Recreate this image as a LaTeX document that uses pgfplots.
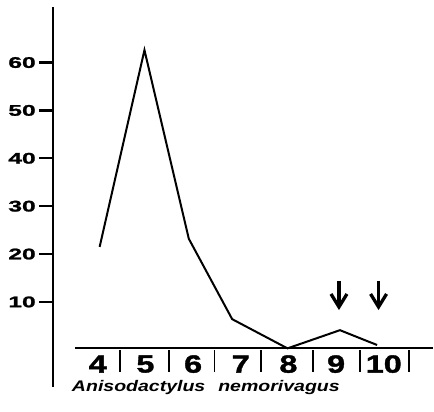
\documentclass[border=0pt]{standalone}
\usepackage{fontspec}
\setmainfont{Liberation Sans}
\newfontfamily\tickfont[FakeStretch=1.6, FakeBold=1.5]{Liberation Sans}
\newfontfamily\catfont[FakeStretch=1.3, FakeBold=1.5]{Liberation Sans}
\newfontfamily\namefont[FakeStretch=1.27]{Liberation Sans}
\usepackage{pgfplots}
\pgfplotsset{compat=1.18}
\usetikzlibrary{arrows.meta}
\begin{document}
\begin{tikzpicture}
\begin{axis}[
  scale only axis, width=380.7pt, height=381.6pt,
  xmin=3.065, xmax=11.03, ymin=-7.8, ymax=71.7,
  axis x line=none, axis y line*=left,
  y axis line style={line width=2pt},
  ytick={10,20,...,60},
  tick align=outside, major tick length=14pt,
  ytick style={line width=2.2pt, black},
  yticklabel style={font=\tickfont\bfseries\fontsize{15.4}{16}\selectfont, inner sep=0pt, xshift=-3.3pt},
  /pgf/number format/assume math mode=true,
  clip=false,
]
\addplot[black, line width=2pt] coordinates {(4.04,21.5) (4.98,62.6) (5.91,23.2) (6.82,6.4) (7.98,0.3) (9.08,4.1) (9.86,1.0)};
% baseline and dividers
\draw[line width=2.2pt] (axis cs:3.52,0.3) -- (axis cs:11.03,0.3);
\draw[line width=1.8pt] (axis cs:4.46,0) -- (axis cs:4.46,-4.7);
\draw[line width=1.8pt] (axis cs:5.49,0) -- (axis cs:5.49,-4.7);
\draw[line width=1.8pt] (axis cs:6.45,0) -- (axis cs:6.45,-4.7);
\draw[line width=1.8pt] (axis cs:7.43,0) -- (axis cs:7.43,-4.7);
\draw[line width=1.8pt] (axis cs:8.52,0) -- (axis cs:8.52,-4.7);
\draw[line width=1.8pt] (axis cs:9.50,0) -- (axis cs:9.50,-4.7);
\draw[line width=1.8pt] (axis cs:10.53,0) -- (axis cs:10.53,-4.7);
% category labels
\node[font=\catfont\bfseries\fontsize{25}{26}\selectfont, inner sep=0pt] at (axis cs:4,-2.98) {4};
\node[font=\catfont\bfseries\fontsize{25}{26}\selectfont, inner sep=0pt] at (axis cs:5,-2.98) {5};
\node[font=\catfont\bfseries\fontsize{25}{26}\selectfont, inner sep=0pt] at (axis cs:6,-2.98) {6};
\node[font=\catfont\bfseries\fontsize{25}{26}\selectfont, inner sep=0pt] at (axis cs:7,-2.98) {7};
\node[font=\catfont\bfseries\fontsize{25}{26}\selectfont, inner sep=0pt] at (axis cs:8,-2.98) {8};
\node[font=\catfont\bfseries\fontsize{25}{26}\selectfont, inner sep=0pt] at (axis cs:9,-2.98) {9};
\node[font=\catfont\bfseries\fontsize{25}{26}\selectfont, inner sep=0pt] at (axis cs:10,-2.98) {10};
% species name
\node[anchor=base west, inner sep=0pt, font=\namefont\bfseries\itshape\fontsize{15.4}{17}\selectfont] at (axis cs:3.456,-8.75) {Anisodactylus\hspace{13pt}nemorivagus};
% arrows
\draw[line width=3.3pt, -{Straight Barb[length=13pt,width=16pt]}] (axis cs:9.06,14.4) -- (axis cs:9.06,8.3);
\draw[line width=3.3pt, -{Straight Barb[length=13pt,width=16pt]}] (axis cs:9.89,14.4) -- (axis cs:9.89,8.3);
% bounding box
\path (axis cs:1.95,-12.98) rectangle (axis cs:11.03,73.06);
\end{axis}
\end{tikzpicture}
\end{document}
